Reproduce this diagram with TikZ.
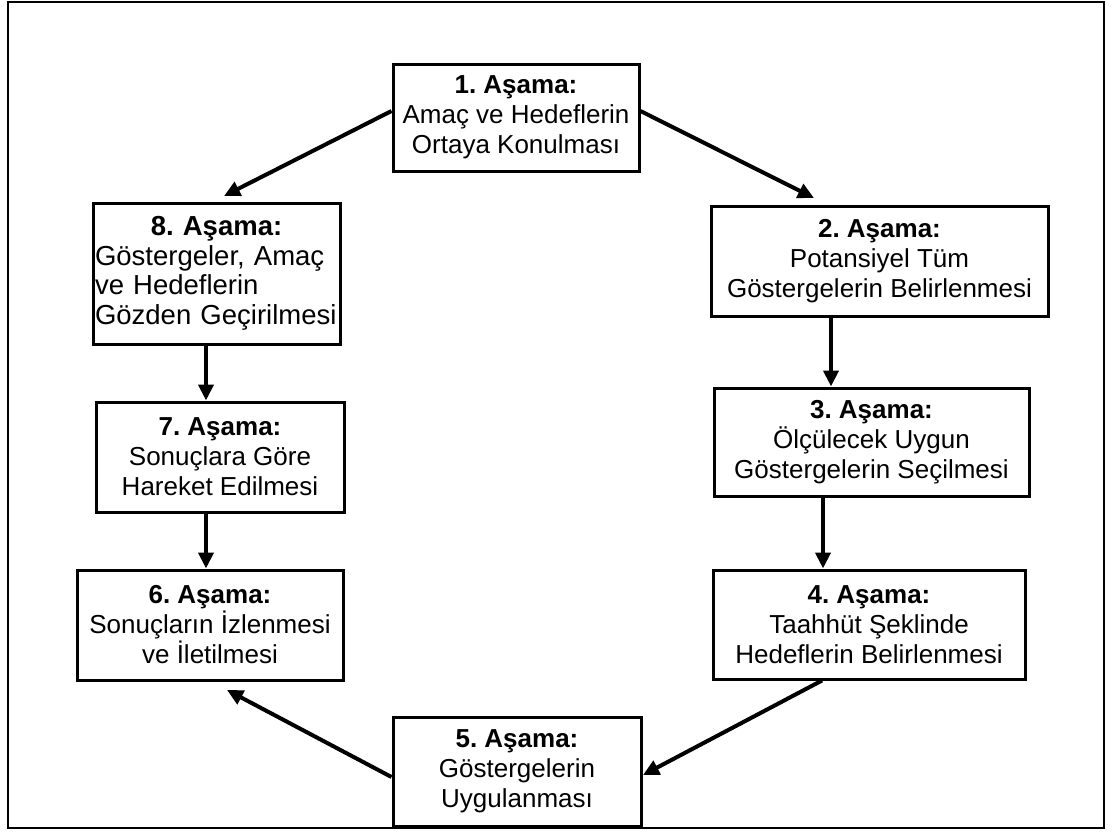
\documentclass[tikz,border=0pt]{standalone}
\usepackage{fontspec}
\setmainfont{Liberation Sans}
\usetikzlibrary{arrows.meta,calc}
\frenchspacing
\begin{document}
\begin{tikzpicture}[x=1pt,y=-1pt,
  stage/.style={draw, line width=3pt, rectangle, align=center, inner sep=0pt,
    font=\fontsize{26}{30}\selectfont},
  arr/.style={line width=4pt, -{Triangle[length=16pt,width=15pt]}},
]
\useasboundingbox (0,0) rectangle (1113,833);
% outer frame
\draw[line width=2.5pt] (8,2) rectangle (1104,828);

% stages of the cycle
\node[stage, minimum width=246pt, minimum height=107pt] (B1) at (516,117.5)
  {\textbf{1. Aşama:}\\Amaç ve Hedeflerin\\Ortaya Konulması};
\node[stage, minimum width=337pt, minimum height=110pt] (B2) at (879.5,261)
  {\textbf{2. Aşama:}\\Potansiyel Tüm\\Göstergelerin Belirlenmesi};
\node[stage, minimum width=315pt, minimum height=108pt] (B3) at (871.5,442)
  {\textbf{3. Aşama:}\\Ölçülecek Uygun\\Göstergelerin Seçilmesi};
\node[stage, minimum width=312pt, minimum height=109pt] (B4) at (869,624.5)
  {\textbf{4. Aşama:}\\Taahhüt Şeklinde\\Hedeflerin Belirlenmesi};
\node[stage, minimum width=248pt, minimum height=109pt] (B5) at (517,771.5)
  {\textbf{5. Aşama:}\\Göstergelerin\\Uygulanması};
\node[stage, minimum width=266pt, minimum height=110pt] (B6) at (210,625)
  {\textbf{6. Aşama:}\\Sonuçların İzlenmesi\\ve İletilmesi};
\node[stage, minimum width=248pt, minimum height=110pt] (B7) at (220,457)
  {\textbf{7. Aşama:}\\Sonuçlara Göre\\Hareket Edilmesi};
\node[stage, minimum width=247pt, minimum height=141pt, text width=243pt, align=left,
  font=\fontsize{27.5}{29.5}\selectfont] (B8) at (216.5,273.5)
  {\null\hfill\textbf{8. Aşama:}\hfill\null\\Göstergeler, Amaç\\ve Hedeflerin\\Gözden Geçirilmesi};

% arrow ends that stop short of a box
\coordinate (t18) at (224,196);
\coordinate (t12) at (814,198);
\coordinate (t45) at (643,775);
\coordinate (t56) at (227,690);

% connectors
\draw[arr] ([yshift=6.5pt]B1.west) -- (t18);
\draw[arr] ([yshift=6.5pt]B1.east) -- (t12);
\draw[arr] ([xshift=-48.5pt]B2.south) -- ([xshift=-40.5pt]B3.north);
\draw[arr] ([xshift=-48.5pt]B3.south) -- ([xshift=-46pt]B4.north);
\draw[arr] ([xshift=-47pt]B4.south) -- (t45);
\draw[arr] ([yshift=-5.5pt]B5.west) -- (t56);
\draw[arr] ([xshift=-10.5pt]B8.south) -- ([xshift=-14pt]B7.north);
\draw[arr] ([xshift=-14pt]B7.south) -- ([xshift=-4pt]B6.north);
\end{tikzpicture}
\end{document}
